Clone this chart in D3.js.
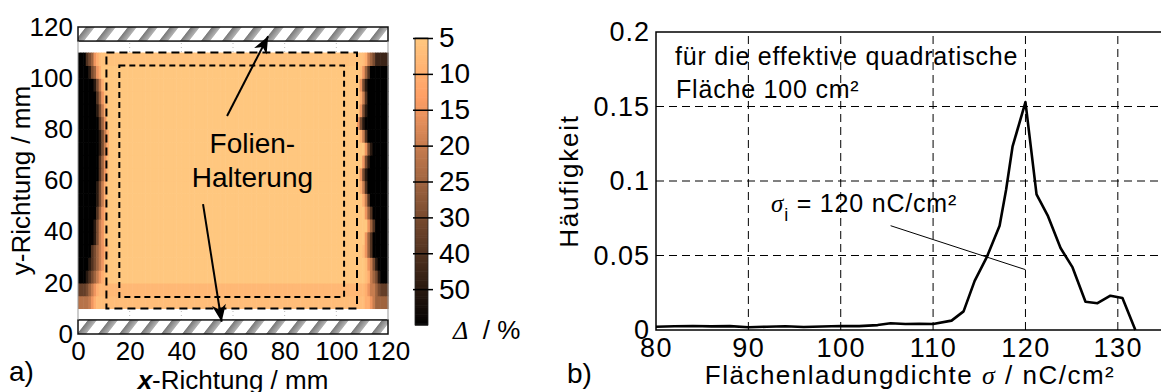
<!DOCTYPE html>
<html>
<head>
<meta charset="utf-8">
<script src="https://cdn.jsdelivr.net/npm/d3@7"></script>
<style>
  body { margin: 0; background: #fff; }
  text { font-family: "Liberation Sans", Arial, sans-serif; fill: #000; }
  .serif { font-family: "Liberation Serif", serif; font-style: italic; }
</style>
</head>
<body>
<svg id="fig" width="1161" height="392"></svg>
<script>
// ---------- panel a) : deviation map ----------
const mapTicks = [0, 20, 40, 60, 80, 100, 120];

// rows of the map, bottom edge in mm (each row is 5 mm high)
const rowBottom = [10, 15, 20, 25, 30, 35, 40, 45, 50, 55, 60, 65, 70, 75, 80, 85, 90, 95, 100, 105];
// left border: end of dark zone (mm), width of the fringe (mm), darkest delta
const leftBlack  = [0, 0.5, 3, 3.9, 4.6, 6, 6, 6.6, 7.2, 7.2, 7.9, 7.9, 8.5, 8.5, 7.9, 7.2, 6.6, 6, 4, 2.7];
const leftFringe = [8, 9, 8, 7.5, 7, 5, 5, 4.5, 4, 4, 4, 4, 3.5, 3.5, 3.5, 4, 4, 4.5, 5.5, 6];
const leftEdge   = [22, 35, 60, 60, 60, 60, 60, 60, 60, 60, 60, 60, 60, 60, 60, 60, 60, 60, 60, 60];
// right border: start of dark zone (mm), fringe width (mm), darkest delta
const rightBlack  = [120, 119, 117, 116, 114, 114, 115, 114, 113, 112, 111.5, 112.5, 113.5, 112, 110.5, 111.5, 112, 111.5, 113, 116];
const rightFringe = [10, 9, 6, 5, 4, 3.5, 3.5, 3.5, 3, 3, 3, 3, 3, 3, 3, 3, 3, 3, 4, 6];
const rightEdge   = [25, 35, 60, 60, 60, 60, 60, 60, 60, 60, 60, 60, 60, 60, 60, 60, 60, 60, 60, 45];
// delta inside the foil
const interior = [7, 8, 5, 5, 5, 5, 5, 5, 5, 5, 5, 5, 5, 5, 5, 5, 5, 5, 5, 6];
// delta steps across a fringe, from dark side to bright side
const fringeSteps = [50, 40, 30, 25, 20, 15, 10, 7];

// colour bar
const cbTicks = [5, 10, 15, 20, 25, 30, 40, 50];
const cbLevels = [5, 10, 15, 20, 25, 30, 40, 50, 60];

// ---------- panel b) : histogram ----------
const sigma = [80, 82, 84, 86, 88, 90, 92, 94, 96, 98, 100, 102, 104, 105.4, 107, 108.5, 110, 112,
  113.3, 114.5, 115.8, 117.2, 117.9, 118.6, 120, 121.2, 122.4, 123.8, 125.1, 126.5, 127.8, 129.2, 130.5, 131.9];
const freq = [0.0022, 0.0025, 0.0027, 0.0024, 0.0026, 0.0018, 0.0022, 0.0025, 0.002, 0.0023, 0.0027, 0.0026,
  0.0033, 0.0045, 0.004, 0.0042, 0.004, 0.0063, 0.0125, 0.033, 0.0487, 0.070, 0.094, 0.123, 0.153, 0.091,
  0.077, 0.055, 0.042, 0.019, 0.018, 0.023, 0.0215, 0];
const sigmaTicks = [80, 90, 100, 110, 120, 130];
const freqTicks = [0, 0.05, 0.1, 0.15, 0.2];
const freqLabels = ['0', '0.05', '0.1', '0.15', '0.2'];

const svg = d3.select('#fig');
const defs = svg.append('defs');

// copper colour map (reversed: small delta = bright)
const levelPos = d3.scaleLinear().domain(cbLevels).range(d3.range(cbLevels.length)).clamp(true);
function copper(t) {
  return d3.rgb(Math.min(1, 1.25 * t) * 255, 0.7812 * t * 255, 0.4975 * t * 255);
}
const deltaColor = d => copper(1 - levelPos(d) / (cbLevels.length - 1));

// ================= panel a =================
const xL = d3.scaleLinear().domain([0, 120]).range([78, 388]);
const yL = d3.scaleLinear().domain([0, 120]).range([334, 27]);
const gA = svg.append('g');

// faint dotted grid (visible in the white gaps)
gA.append('g').selectAll('line').data(mapTicks.slice(1, -1)).join('line')
  .attr('x1', d => xL(d)).attr('x2', d => xL(d))
  .attr('y1', yL(120)).attr('y2', yL(0))
  .attr('stroke', '#bbb').attr('stroke-width', 1).attr('stroke-dasharray', '1,3');

function cellDelta(r, xc) {
  let d = interior[r];
  if (xc < leftBlack[r]) return leftEdge[r];
  if (xc < leftBlack[r] + leftFringe[r]) {
    const f = (xc - leftBlack[r]) / leftFringe[r];
    d = Math.max(d, Math.min(leftEdge[r], fringeSteps[Math.floor(f * fringeSteps.length)]));
  }
  if (xc > rightBlack[r]) return rightEdge[r];
  if (xc > rightBlack[r] - rightFringe[r]) {
    const f = (rightBlack[r] - xc) / rightFringe[r];
    d = Math.max(d, Math.min(rightEdge[r], fringeSteps[Math.floor(f * fringeSteps.length)]));
  }
  return d;
}

const cells = [];
rowBottom.forEach((y0, r) => {
  for (let x = 0; x < 120; x++) cells.push({ x0: x, y0: y0, delta: cellDelta(r, x + 0.5) });
});
gA.append('g').selectAll('rect').data(cells).join('rect')
  .attr('x', d => xL(d.x0))
  .attr('y', d => yL(d.y0 + 5))
  .attr('width', xL(1) - xL(0) + 0.6)
  .attr('height', yL(0) - yL(5) + 0.6)
  .attr('fill', d => deltaColor(d.delta));

// hatched holders
const pat = defs.append('pattern').attr('id', 'hatch')
  .attr('patternUnits', 'userSpaceOnUse').attr('width', 21).attr('height', 40)
  .attr('patternTransform', 'skewX(-38)');
pat.append('rect').attr('width', 21).attr('height', 40).attr('fill', '#fff');
const hg = defs.append('linearGradient').attr('id', 'hgrad');
hg.append('stop').attr('offset', '0%').attr('stop-color', '#777');
hg.append('stop').attr('offset', '100%').attr('stop-color', '#b5b5b5');
pat.append('rect').attr('x', 2).attr('width', 9).attr('height', 40).attr('fill', 'url(#hgrad)');

const holders = [[114.5, 120], [0, 5.5]];
gA.append('g').selectAll('rect').data(holders).join('rect')
  .attr('x', xL(0)).attr('width', xL(120) - xL(0))
  .attr('y', d => yL(d[1])).attr('height', d => yL(d[0]) - yL(d[1]))
  .attr('fill', 'url(#hatch)').attr('stroke', '#111').attr('stroke-width', 1.5);

// frame sides
gA.append('g').selectAll('line').data([0, 120]).join('line')
  .attr('x1', d => xL(d)).attr('x2', d => xL(d))
  .attr('y1', yL(114.5)).attr('y2', yL(5.5))
  .attr('stroke', '#999').attr('stroke-width', 1);

// dashed boxes
const boxes = [
  { x0: 11, x1: 108, y0: 10, y1: 110, dash: '8,5' },
  { x0: 16, x1: 103, y0: 14.5, y1: 105, dash: '6,4' }
];
gA.append('g').selectAll('rect').data(boxes).join('rect')
  .attr('x', d => xL(d.x0)).attr('y', d => yL(d.y1))
  .attr('width', d => xL(d.x1) - xL(d.x0)).attr('height', d => yL(d.y0) - yL(d.y1))
  .attr('fill', 'none').attr('stroke', '#000').attr('stroke-width', 2)
  .attr('stroke-dasharray', d => d.dash);

// arrows
defs.append('marker').attr('id', 'ahead').attr('viewBox', '-18 -8 20 16')
  .attr('markerUnits', 'userSpaceOnUse').attr('markerWidth', 20).attr('markerHeight', 16)
  .attr('refX', 0).attr('refY', 0).attr('orient', 'auto')
  .append('path').attr('d', 'M0,0 L-17,-7 L-12,0 L-17,7 Z').attr('fill', '#000');
const arrows = [[57.7, 85.2, 73.6, 116.4], [48.4, 50.8, 55.6, 4.8]];
gA.append('g').selectAll('line').data(arrows).join('line')
  .attr('x1', d => xL(d[0])).attr('y1', d => yL(d[1]))
  .attr('x2', d => xL(d[2])).attr('y2', d => yL(d[3]))
  .attr('stroke', '#000').attr('stroke-width', 2).attr('marker-end', 'url(#ahead)');

gA.append('text').attr('x', xL(67.5)).attr('y', 153).attr('text-anchor', 'middle')
  .style('font-size', '28px').text('Folien-');
gA.append('text').attr('x', xL(67.5)).attr('y', 187).attr('text-anchor', 'middle')
  .style('font-size', '28px').text('Halterung');

// axes of panel a
const axA = d3.axisBottom(xL).tickValues(mapTicks).tickSize(0).tickPadding(8);
gA.append('g').attr('transform', `translate(0,${yL(0)})`).call(axA)
  .call(g => g.select('.domain').remove())
  .selectAll('text').style('font-size', '26px');
const ayA = d3.axisLeft(yL).tickValues(mapTicks).tickSize(0).tickPadding(5);
gA.append('g').attr('transform', `translate(${xL(0)},0)`).call(ayA)
  .call(g => g.select('.domain').remove())
  .selectAll('text').style('font-size', '26px');

const xlab = gA.append('text').attr('x', xL(60)).attr('y', 389).attr('text-anchor', 'middle')
  .style('font-size', '26px');
xlab.append('tspan').style('font-weight', 'bold').style('font-style', 'italic').text('x');
xlab.append('tspan').text('-Richtung / mm');
gA.append('text').attr('transform', `translate(30,${(yL(0) + yL(120)) / 2}) rotate(-90)`)
  .attr('text-anchor', 'middle').style('font-size', '26px').text('y-Richtung / mm');
gA.append('text').attr('x', 9).attr('y', 381).style('font-size', '28px').text('a)');

// colour bar
const cbY = d3.scalePoint().domain(cbLevels).range([38, 325]);
const cbStep = d3.range(0, cbLevels.length - 1, 0.05);
const cbG = svg.append('g');
cbG.append('g').selectAll('rect').data(cbStep).join('rect')
  .attr('x', 415).attr('width', 13)
  .attr('y', d => cbY(cbLevels[0]) + d * cbY.step())
  .attr('height', 0.05 * cbY.step() + 0.6)
  .attr('fill', d => copper(1 - d / (cbLevels.length - 1)));
cbG.append('rect').attr('x', 415).attr('width', 13)
  .attr('y', cbY(5)).attr('height', cbY(60) - cbY(5))
  .attr('fill', 'none').attr('stroke', '#222').attr('stroke-width', 0.8);
cbG.append('g').attr('transform', 'translate(413,0)')
  .call(d3.axisRight(cbY).tickValues(cbTicks).tickSize(20).tickPadding(6))
  .call(g => g.select('.domain').remove())
  .call(g => g.selectAll('line').attr('stroke', '#000').attr('stroke-width', 1.5))
  .selectAll('text').style('font-size', '28px');
const cbl = cbG.append('text').attr('x', 453).attr('y', 339).style('font-size', '26px');
cbl.append('tspan').attr('class', 'serif').text('Δ');
cbl.append('tspan').text('  / %').attr('xml:space', 'preserve');

// ================= panel b =================
const xR = d3.scaleLinear().domain([80, 135]).range([656, 1164]);
const yR = d3.scaleLinear().domain([0, 0.2]).range([330, 32]);
const gB = svg.append('g');

gB.append('g').selectAll('line').data(sigmaTicks.slice(1)).join('line')
  .attr('x1', d => xR(d)).attr('x2', d => xR(d)).attr('y1', yR(0)).attr('y2', yR(0.2))
  .attr('stroke', '#000').attr('stroke-width', 1).attr('stroke-dasharray', '8,5');
gB.append('g').selectAll('line').data(freqTicks.slice(1, -1)).join('line')
  .attr('x1', xR(80)).attr('x2', xR(135)).attr('y1', d => yR(d)).attr('y2', d => yR(d))
  .attr('stroke', '#000').attr('stroke-width', 1).attr('stroke-dasharray', '8,5');

// frame
gB.append('path')
  .attr('d', `M${xR(135)},${yR(0.2)} H${xR(80)} V${yR(0)} H${xR(135)}`)
  .attr('fill', 'none').attr('stroke', '#000').attr('stroke-width', 1.5);

// annotation pointer
gB.append('line').attr('x1', xR(105.4)).attr('y1', yR(0.070)).attr('x2', xR(120)).attr('y2', yR(0.0405))
  .attr('stroke', '#000').attr('stroke-width', 1);

gB.append('path').datum(sigma.map((s, i) => [s, freq[i]]))
  .attr('fill', 'none').attr('stroke', '#000').attr('stroke-width', 2.6).attr('stroke-linejoin', 'round')
  .attr('d', d3.line().x(d => xR(d[0])).y(d => yR(d[1])));

const axB = d3.axisBottom(xR).tickValues(sigmaTicks).tickSize(0).tickPadding(8);
gB.append('g').attr('transform', `translate(0,${yR(0)})`).call(axB)
  .call(g => g.select('.domain').remove())
  .selectAll('text').style('font-size', '27px').style('letter-spacing', '1.5px');
const ayB = d3.axisLeft(yR).tickValues(freqTicks).tickSize(0).tickPadding(6)
  .tickFormat((d, i) => freqLabels[i]);
gB.append('g').attr('transform', `translate(${xR(80)},0)`).call(ayB)
  .call(g => g.select('.domain').remove())
  .selectAll('text').style('font-size', '27px').style('letter-spacing', '1px');

const xlb = gB.append('text').attr('x', (xR(80) + xR(135)) / 2).attr('y', 384).attr('text-anchor', 'middle')
  .style('font-size', '26px').style('letter-spacing', '1.5px');
xlb.append('tspan').text('Flächenladungdichte ');
xlb.append('tspan').attr('class', 'serif').text('σ');
xlb.append('tspan').text(' / nC/cm²');
gB.append('text').attr('transform', `translate(578,${(yR(0) + yR(0.2)) / 2}) rotate(-90)`)
  .attr('text-anchor', 'middle').style('font-size', '26px').style('letter-spacing', '1.8px').text('Häufigkeit');
gB.append('text').attr('x', 567).attr('y', 383).style('font-size', '28px').text('b)');

gB.append('text').attr('x', 675).attr('y', 65).style('font-size', '25px').style('letter-spacing', '0.8px')
  .text('für die effektive quadratische');
gB.append('text').attr('x', 676).attr('y', 98).style('font-size', '25px').style('letter-spacing', '0.8px')
  .text('Fläche 100 cm²');

const ann = gB.append('text').attr('x', 771).attr('y', 212).style('font-size', '25px').style('letter-spacing', '0.8px');
ann.append('tspan').attr('class', 'serif').text('σ');
ann.append('tspan').attr('dy', 9).style('font-size', '18px').text('i');
ann.append('tspan').attr('dy', -9).text(' = 120 nC/cm²');
</script>
</body>
</html>
